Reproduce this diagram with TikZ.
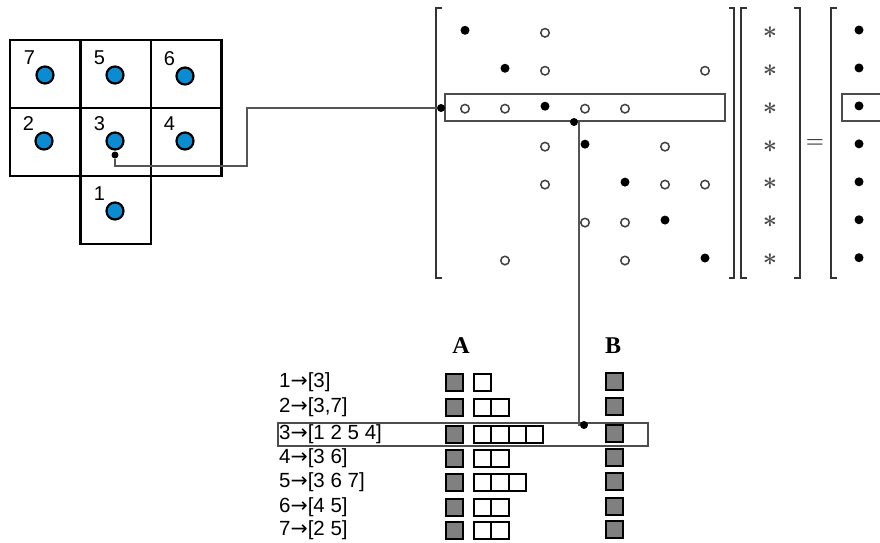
\documentclass[tikz,border=0pt]{standalone}
\usepackage{fontspec}
\setmainfont{Liberation Sans}
\newfontfamily\serifbf{Liberation Serif}
\newfontfamily\arrowfont{DejaVu Sans}
\definecolor{nodeblue}{RGB}{10,140,210}
\definecolor{sqgray}{RGB}{128,128,128}
\definecolor{linegray}{RGB}{85,85,85}
\begin{document}
\begin{tikzpicture}[x=1pt,y=-1pt,
  cell/.style={draw,line width=2.4pt,minimum width=70.5pt,minimum height=68pt,inner sep=0,outer sep=0},
  site/.style={circle,draw,line width=2.2pt,fill=nodeblue,minimum size=17pt,inner sep=0},
  lab/.style={font=\fontsize{20}{20}\selectfont,inner sep=0},
  bdot/.style={circle,fill=black,minimum size=9pt,inner sep=0},
  hdot/.style={circle,draw=black!75,line width=1.5pt,fill=white,minimum size=8.5pt,inner sep=0},
  jdot/.style={circle,fill=black,minimum size=8pt,inner sep=0},
  conn/.style={draw=linegray,line width=1.3pt},
  brk/.style={draw=black!80,line width=2.4pt},
  rowbox/.style={draw=black!70,line width=1.4pt},
  gsq/.style={draw=black,line width=2pt,fill=sqgray,minimum size=17pt,inner sep=0},
  wsq/.style={draw=black,line width=2pt,fill=white,minimum width=17.3pt,minimum height=17pt,inner sep=0,outer sep=0},
  star/.style={text=black!70,font=\fontsize{26}{26}\selectfont\boldmath,inner sep=0},
  rowtxt/.style={anchor=west,font=\fontsize{20.5}{20.5}\selectfont,inner sep=0},
  head/.style={font=\serifbf\bfseries\fontsize{24}{24}\selectfont,inner sep=0}
]
\useasboundingbox (0,0) rectangle (880,542);

% ---- grid of cells ----
\node[cell] (c7) at (45.25,74) {};
\node[cell] (c5) at (115.75,74) {};
\node[cell] (c6) at (186.25,74) {};
\node[cell] (c2) at (45.25,142) {};
\node[cell] (c3) at (115.75,142) {};
\node[cell] (c4) at (186.25,142) {};
\node[cell] (c1) at (115.75,210) {};

\foreach \n/\x/\y in {7/45/75,5/115/75,6/185/76,2/44/141,3/115/141,4/185/141,1/115/211}{
  \node[site] (s\n) at (\x,\y) {};
  \node[lab] (l\n) at (\x-15.5,\y-17) {\n};
}

% ---- matrix brackets ----
\draw[brk] (442,8) -- (436,8) -- (436,278) -- (442,278);
\draw[brk] (729,8) -- (734,8) -- (734,278) -- (729,278);
\draw[brk] (747,8) -- (741,8) -- (741,278) -- (747,278);
\draw[brk] (794,8) -- (800,8) -- (800,278) -- (794,278);
\draw[brk] (837,8) -- (831,8) -- (831,278) -- (837,278);

% ---- matrix entries ----
\foreach \r in {1,...,7}{
  \node[bdot] (m\r-\r) at ({465+40*(\r-1)},{30.3+37.95*(\r-1)}) {};
  \node[star] (v\r) at (770,{32.3+37.95*(\r-1)}) {$\ast$};
  \node[bdot] (b\r) at (859,{30+37.95*(\r-1)}) {};
}
\foreach \r/\c in {1/3,2/3,2/7,3/1,3/2,3/4,3/5,4/3,4/6,5/3,5/6,5/7,6/4,6/5,7/2,7/5}{
  \node[hdot] (m\r-\c) at ({465+40*(\c-1)},{32.8+37.95*(\r-1)}) {};
}
\node[text=black!75,font=\fontsize{22}{22}\selectfont\boldmath,inner sep=0] (eq) at (815,143) {$=$};

% ---- highlighted rows ----
\draw[rowbox] (445,94) rectangle (725,121);
\draw[rowbox] (882,94) -- (842,94) -- (842,121) -- (882,121);

% ---- connector grid -> matrix ----
\node[jdot,minimum size=7pt] (j1) at (115,155) {};
\coordinate (k1) at (247,166);
\node[jdot] (j2) at (441,108) {};
\draw[conn] (j1) |- (k1) |- (j2);

% ---- lower part ----
\node[head] (hA) at (461,346) {A};
\node[head] (hB) at (613,346) {B};

\draw[rowbox] (278,423) rectangle (648,446);

\foreach \r/\t/\y/\k in {1/{[3]}/382/1,2/{[3,7]}/407/2,3/{[1 2 5 4]}/434/4,4/{[3 6]}/458/2,5/{[3 6 7]}/482/3,6/{[4 5]}/507/2,7/{[2 5]}/530/2}{
  \node[rowtxt] (t\r) at (279,\y) {\r{\arrowfont→}\t};
  \node[gsq] (ga\r) at (454,\y) {};
  \node[gsq] (gb\r) at (614,\y-1) {};
  \foreach \i in {1,...,\k}{
    \node[wsq] (w\r-\i) at ({474+8.65+17.3*(\i-1)},\y) {};
  }
}

% ---- connector matrix -> lists ----
\node[jdot] (j3) at (574,122) {};
\node[jdot] (j4) at (584,425) {};
\coordinate (k2) at (579,122);
\draw[conn] (j3) -- (k2) -- (k2 |- j4) -- (j4);
\end{tikzpicture}
\end{document}
